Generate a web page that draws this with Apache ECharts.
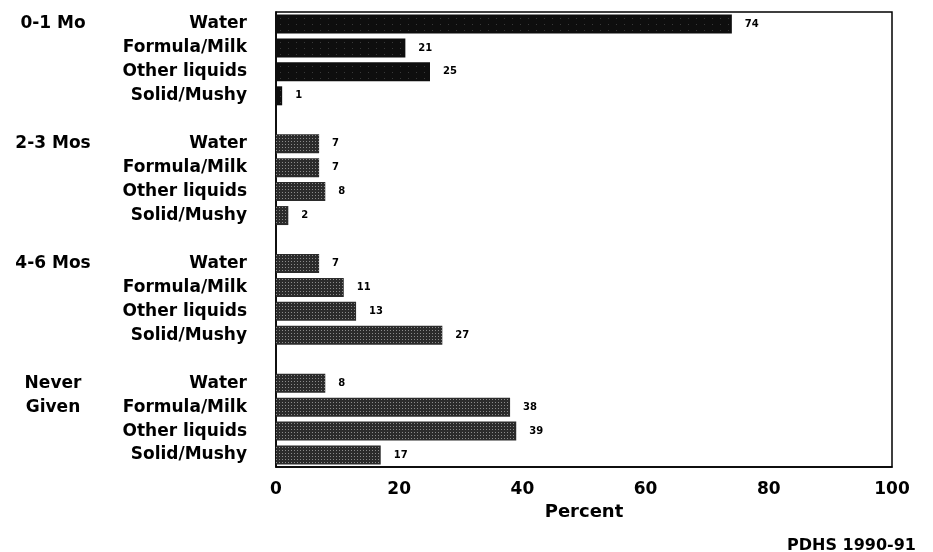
<!DOCTYPE html>
<html>
<head>
<meta charset="utf-8">
<script src="https://cdn.jsdelivr.net/npm/echarts@6/dist/echarts.min.js"></script>
<style>html,body{margin:0;padding:0;background:#fff;}#c{width:933px;height:552px;}</style>
</head>
<body>
<div id="c"></div>
<script>
// ---- data ----
const categories = ['Water', 'Formula/Milk', 'Other liquids', 'Solid/Mushy'];
const groupLabels = [['0-1 Mo'], ['2-3 Mos'], ['4-6 Mos'], ['Never', 'Given']];
const mo0to1 = [74, 21, 25, 1];
const mos2to3 = [7, 7, 8, 2];
const mos4to6 = [7, 11, 13, 27];
const neverGiven = [8, 38, 39, 17];
const xTicks = [0, 20, 40, 60, 80, 100];
const source = 'PDHS 1990-91';

// ---- build ----
const groupValues = [mo0to1, mos2to3, mos4to6, neverGiven];
const yCats = [], rowGroupText = [], barData = [];
const FONT = 'DejaVu Sans';
groupValues.forEach((vals, g) => {
  if (g > 0) { yCats.push('gap' + g); rowGroupText.push(''); barData.push('-'); }
  categories.forEach((c, i) => {
    yCats.push(c);
    rowGroupText.push(groupLabels[g][i] || '');
    barData.push({
      value: vals[i],
      itemStyle: g === 0 ? {
        color: '#0e0e0e',
        decal: { symbol: 'rect', symbolSize: 1, color: 'rgba(255,255,255,0.18)', dashArrayX: [1, 7], dashArrayY: [1, 5] }
      } : {
        color: '#2b2b2b',
        decal: { symbol: 'rect', symbolSize: 1, color: 'rgba(255,255,255,0.45)', dashArrayX: [1, 2], dashArrayY: [1, 2], rotation: 0 }
      }
    });
  });
});

const chart = echarts.init(document.getElementById('c'));
chart.setOption({
  animation: false,
  backgroundColor: '#fff',
  title: {
    text: source, right: 12, top: 533,
    textStyle: { fontFamily: FONT, fontWeight: 'bold', fontSize: 16, color: '#000' }
  },
  grid: {
    left: 276, right: 41, top: 12, bottom: 85,
    show: true, borderColor: '#000', borderWidth: 1.5, backgroundColor: 'transparent'
  },
  xAxis: {
    type: 'value', min: xTicks[0], max: xTicks[xTicks.length - 1], interval: 20,
    axisLine: { show: true, lineStyle: { color: '#000', width: 1.5 } },
    axisTick: { show: false },
    splitLine: { show: false },
    axisLabel: { margin: 14, color: '#000', fontFamily: FONT, fontWeight: 'bold', fontSize: 17 },
    name: 'Percent', nameLocation: 'middle', nameGap: 36,
    nameTextStyle: { color: '#000', fontFamily: FONT, fontWeight: 'bold', fontSize: 18 }
  },
  yAxis: {
    type: 'category', inverse: true, data: yCats,
    axisLine: { show: true, lineStyle: { color: '#000', width: 1.5 } },
    axisTick: { show: false },
    splitLine: { show: false },
    axisLabel: {
      margin: 29, interval: 0,
      formatter: function (v, idx) {
        if (v.indexOf('gap') === 0) return '';
        const g = rowGroupText[idx];
        return (g ? '{g|' + g + '}' : '') + '{c|' + v + '}';
      },
      rich: {
        g: { width: 108, align: 'center', color: '#000', fontFamily: FONT, fontWeight: 'bold', fontSize: 17 },
        c: { width: 140, align: 'right', color: '#000', fontFamily: FONT, fontWeight: 'bold', fontSize: 17 }
      }
    }
  },
  series: [{
    type: 'bar', data: barData, barWidth: 19,
    label: {
      show: true, position: 'right', distance: 13,
      color: '#000', fontFamily: FONT, fontWeight: 'bold', fontSize: 10
    }
  }]
});
</script>
</body>
</html>
